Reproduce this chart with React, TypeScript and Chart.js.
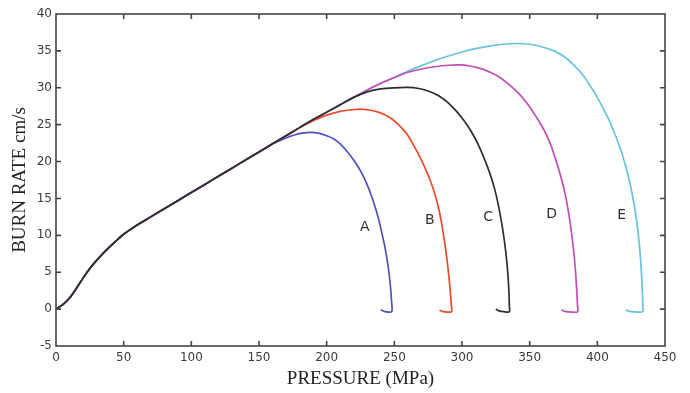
import React, { useEffect, useRef } from "react";
import { Chart, registerables } from "chart.js";

Chart.register(...registerables);

// Shared rising part of every curve (pressure MPa, burn rate cm/s)
const riseP = [0, 5, 10, 15, 20, 25, 30, 35, 40, 45, 50, 55, 60, 70, 80, 90, 100, 110, 120, 130, 140, 150, 160, 170, 180, 190, 200, 210, 220, 230, 240, 250];
const riseR = [0, 0.6, 1.5, 2.8, 4.2, 5.5, 6.6, 7.6, 8.5, 9.35, 10.15, 10.8, 11.4, 12.5, 13.6, 14.7, 15.8, 16.9, 18.0, 19.1, 20.2, 21.3, 22.4, 23.5, 24.6, 25.7, 26.7, 27.7, 28.7, 29.7, 30.6, 31.4];

// Tail of each curve after it leaves the shared line
const aP = [168, 176, 182, 188, 194, 200, 205, 210, 214, 218, 222.2, 226, 229.6, 232.8, 235.8, 238.4, 240.7, 242.7, 244.4, 245.9, 247.1, 247.9, 248.2, 246, 243, 241, 240];
const aR = [23.05, 23.6, 23.85, 23.95, 23.85, 23.5, 23.1, 22.4, 21.6, 20.7, 19.6, 18.4, 17.0, 15.5, 13.85, 12.2, 10.4, 8.7, 7.0, 5.1, 3.1, 1.2, -0.35, -0.4, -0.35, -0.2, -0.1];

const bP = [190, 200, 210, 218, 225, 232, 238, 243, 248, 253, 259, 264, 269, 273, 276.4, 279.6, 282.5, 284.5, 286.2, 287.6, 288.9, 290.2, 291.3, 292.1, 292.3, 289.5, 286, 284, 283.6];
const bR = [25.55, 26.3, 26.8, 27.0, 27.1, 26.95, 26.7, 26.35, 25.8, 25.0, 23.8, 22.3, 20.6, 19.0, 17.5, 15.8, 13.85, 12.1, 10.2, 8.5, 6.7, 4.6, 2.5, 0.6, -0.35, -0.4, -0.35, -0.2, -0.1];

const cP = [230, 240, 250, 260, 268, 276, 283, 289, 295, 300, 304, 308, 312, 316, 320, 323.8, 327, 330, 332.2, 333.7, 334.6, 335, 335, 331, 327, 325];
const cR = [29.45, 29.85, 30.0, 30.05, 29.9, 29.5, 28.9, 28.1, 27.0, 25.9, 24.9, 23.7, 22.3, 20.6, 18.7, 16.5, 14.0, 10.9, 8.0, 5.2, 2.6, 0.4, -0.35, -0.35, -0.2, 0.0];

const dP = [260, 270, 280, 290, 298, 306, 314, 322, 328, 333.7, 341, 348.5, 355, 360.8, 365.5, 369.5, 372.8, 375.6, 378, 380, 381.6, 383, 384, 384.8, 385.3, 385.4, 381, 377, 374.5, 373.5];
const dR = [32.1, 32.55, 32.85, 33.05, 33.1, 32.95, 32.6, 32.0, 31.4, 30.6, 29.4, 27.8, 26.0, 24.2, 22.3, 20.1, 18.1, 16.1, 13.9, 11.6, 9.3, 7.0, 4.8, 2.5, 0.6, -0.35, -0.4, -0.35, -0.2, -0.1];

const eP = [260, 270, 280, 290, 300, 310, 320, 330, 340, 350, 360, 368, 375.6, 383, 389, 395.3, 401.5, 407.7, 412.8, 417.5, 421, 423.7, 426, 427.9, 429.6, 431, 432, 432.8, 433.3, 433.6, 433.6, 430, 425, 422, 421];
const eR = [32.25, 33.0, 33.7, 34.3, 34.85, 35.3, 35.65, 35.9, 36.0, 35.9, 35.5, 35.0, 34.2, 33.0, 31.8, 30.1, 28.2, 26.0, 23.8, 21.5, 19.3, 17.4, 15.3, 13.4, 11.1, 8.85, 6.6, 4.3, 2.2, 0.3, -0.35, -0.4, -0.35, -0.2, -0.1];

const curveNames = ["A", "B", "C", "D", "E"];
const curveColors = ["#4f50bf", "#ee4a2e", "#2e2e2e", "#c24db6", "#68c4de"];
const branchAt = [160, 180, 220, 250, 250];
const tailsP = [aP, bP, cP, dP, eP];
const tailsR = [aR, bR, cR, dR, eR];
const drawOrder = [1, 2, 0, 3, 4];

// Curve letter labels (data coordinates)
const labelP = [228.2, 276.2, 319.4, 366.3, 418];
const labelR = [11.05, 12.04, 12.5, 12.8, 12.7];

const buildPoints = (i: number) => {
  const pts: { x: number; y: number }[] = [];
  riseP.forEach((p, k) => {
    if (p <= branchAt[i]) pts.push({ x: p, y: riseR[k] });
  });
  tailsP[i].forEach((p, k) => pts.push({ x: p, y: tailsR[i][k] }));
  return pts;
};

const framePlugin = {
  id: "frameAndLabels",
  afterDatasetsDraw(chart: any) {
    const { ctx, chartArea, scales } = chart;
    const { left, right, top, bottom } = chartArea;
    const xs = scales.x;
    const ys = scales.y;
    ctx.save();
    ctx.strokeStyle = "#454545";
    ctx.lineWidth = 1.6;
    ctx.strokeRect(left, top, right - left, bottom - top);
    ctx.beginPath();
    xs.ticks.forEach((t: any) => {
      const px = xs.getPixelForValue(t.value);
      if (px <= left + 1 || px >= right - 1) return;
      ctx.moveTo(px, bottom);
      ctx.lineTo(px, bottom - 5);
      ctx.moveTo(px, top);
      ctx.lineTo(px, top + 5);
    });
    ys.ticks.forEach((t: any) => {
      const py = ys.getPixelForValue(t.value);
      if (py <= top + 1 || py >= bottom - 1) return;
      ctx.moveTo(left, py);
      ctx.lineTo(left + 5, py);
      ctx.moveTo(right, py);
      ctx.lineTo(right - 5, py);
    });
    ctx.stroke();
    ctx.fillStyle = "#333";
    ctx.font = "14px 'DejaVu Sans'";
    ctx.textAlign = "center";
    ctx.textBaseline = "middle";
    curveNames.forEach((n, i) => {
      ctx.fillText(n, xs.getPixelForValue(labelP[i]), ys.getPixelForValue(labelR[i]));
    });
    ctx.restore();
  },
};

export default function App() {
  const ref = useRef<HTMLCanvasElement | null>(null);
  useEffect(() => {
    if (!ref.current) return;
    const chart = new Chart(ref.current, {
      type: "scatter",
      data: {
        datasets: curveNames.map((n, i) => ({
          label: n,
          data: buildPoints(i),
          showLine: true,
          borderColor: curveColors[i],
          backgroundColor: curveColors[i],
          borderWidth: 1.7,
          pointRadius: 0,
          tension: 0.3,
          order: drawOrder[i],
        })),
      },
      options: {
        responsive: false,
        animation: false,
        layout: { padding: { top: 14, right: 25, left: 0, bottom: 0 } },
        plugins: { legend: { display: false }, tooltip: { enabled: false } },
        scales: {
          x: {
            type: "linear",
            min: 0,
            max: 450,
            grid: { display: false, drawTicks: false },
            border: { display: false },
            ticks: { stepSize: 50, padding: 5, color: "#3a3a3a", font: { family: "DejaVu Sans", size: 12 } },
            title: {
              display: true,
              text: "PRESSURE (MPa)",
              color: "#222",
              padding: { top: 0, bottom: 3 },
              font: { family: "Liberation Serif", size: 19 },
            },
            afterFit: (s: any) => {
              s.height = 47;
            },
          },
          y: {
            type: "linear",
            min: -5,
            max: 40,
            grid: { display: false, drawTicks: false },
            border: { display: false },
            ticks: { stepSize: 5, padding: 4, color: "#3a3a3a", font: { family: "DejaVu Sans", size: 12 } },
            title: {
              display: true,
              text: "BURN RATE cm/s",
              color: "#222",
              padding: { top: 9, bottom: 0 },
              font: { family: "Liberation Serif", size: 19 },
            },
            afterFit: (s: any) => {
              s.width = 56;
            },
          },
        },
      },
      plugins: [framePlugin],
    });
    return () => chart.destroy();
  }, []);
  return (
    <div style={{ position: "absolute", left: 0, top: 0, width: 690, height: 393, background: "#fff" }}>
      <canvas ref={ref} width={690} height={393} />
    </div>
  );
}
